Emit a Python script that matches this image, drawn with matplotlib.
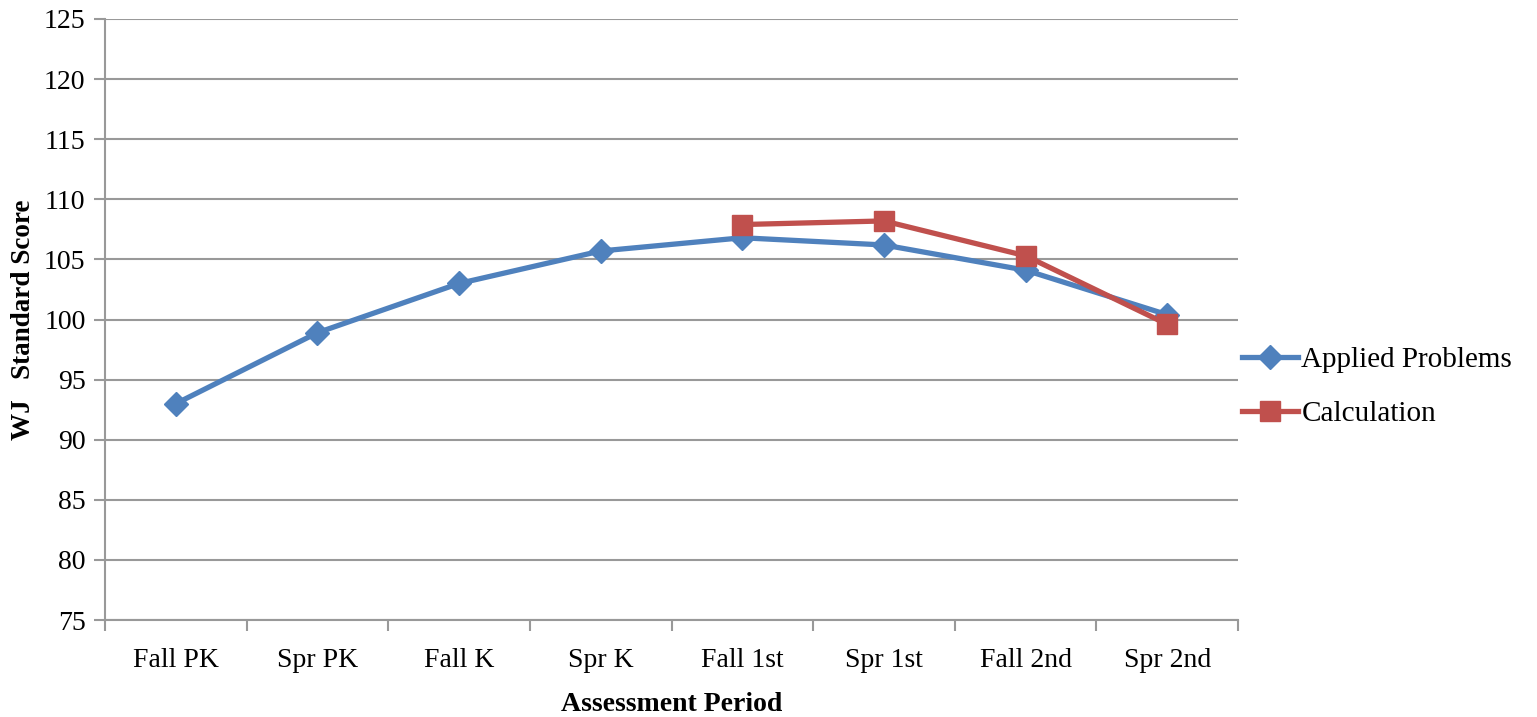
import matplotlib
matplotlib.use("Agg")
import matplotlib.pyplot as plt
import numpy as np

periods = ['Fall PK', 'Spr PK', 'Fall K', 'Spr K', 'Fall 1st', 'Spr 1st', 'Fall 2nd', 'Spr 2nd']
applied = [93.0, 98.9, 103.0, 105.7, 106.8, 106.2, 104.1, 100.4]
calc_periods = ['Fall 1st', 'Spr 1st', 'Fall 2nd', 'Spr 2nd']
calculation = [107.9, 108.2, 105.3, 99.6]
yticks = list(range(75, 130, 5))

plt.rcParams['font.family'] = ['Liberation Serif', 'DejaVu Serif']

fig = plt.figure(figsize=(15.37, 7.17), dpi=100)
ax = fig.add_axes([105/1537, 1 - 620/717, (1238 - 105)/1537, (620 - 19)/717])

x = np.arange(len(periods))
xc = [periods.index(p) for p in calc_periods]
ax.plot(x, applied, color='#4F81BD', lw=3.8, marker='D', ms=12, label='Applied Problems', zorder=3)
ax.plot(xc, calculation, color='#C0504D', lw=3.8, marker='s', ms=14, label='Calculation', zorder=4)

ax.set_xlim(-0.5, len(periods) - 0.5)
ax.set_ylim(75, 125)
ax.set_yticks(yticks)
ax.set_xticks(x)
ax.set_xticklabels(periods)
ax.set_xticks(np.arange(-0.5, len(periods)), minor=True)
ax.tick_params(axis='x', which='major', length=0, pad=20, labelsize=20)
ax.tick_params(axis='x', which='minor', length=8, width=1.5, color='#999999')
ax.tick_params(axis='y', length=8, width=1.5, color='#999999', pad=6, labelsize=20)

ax.grid(axis='y', color='#999999', lw=1.5)
ax.set_axisbelow(True)
for s in ['top', 'right']:
    ax.spines[s].set_visible(False)
for s in ['left', 'bottom']:
    ax.spines[s].set_color('#999999')
    ax.spines[s].set_linewidth(1.5)

ax.set_xlabel('Assessment Period', fontsize=20, fontweight='bold', labelpad=14)
ax.set_ylabel('WJ   Standard Score', fontsize=19.5, fontweight='bold', labelpad=6)

ax.legend(loc='center left', bbox_to_anchor=(0.980, 0.388), frameon=False,
          fontsize=21, handlelength=1.95, handletextpad=0.1, labelspacing=0.95)

fig.savefig('out.png', dpi=100)
